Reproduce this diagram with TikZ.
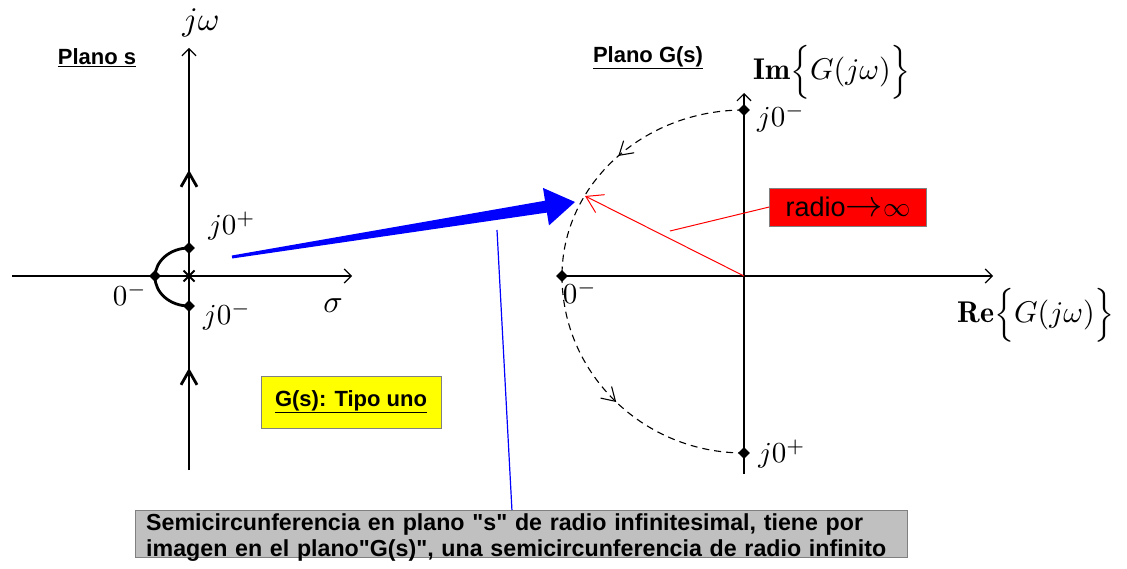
\documentclass[tikz,border=0pt]{standalone}
\usepackage{graphicx}
\usepackage{fontspec}
\setsansfont{Liberation Sans}
\newfontfamily\notefont{Liberation Sans}
\usetikzlibrary{positioning,calc,arrows.meta,shapes.geometric,shapes.misc,decorations.markings}
\definecolor{notegray}{RGB}{192,192,192}
\definecolor{tipoyellow}{RGB}{255,255,0}
\definecolor{framegray}{RGB}{128,128,128}
\newcommand{\bigmath}[2][2.9]{\scalebox{#1}{$#2$}}

\begin{document}
\begin{tikzpicture}[x=1pt,y=-1pt,
  axis/.style={line width=1.2pt,-{Straight Barb[length=7pt,width=14pt]}},
  contour/.style={line width=2.8pt},
  dot/.style={diamond,fill=black,inner sep=0pt,minimum size=12pt},
  lbl/.style={font=\fontsize{10}{12}\selectfont,inner sep=0pt},
  plano/.style={font=\sffamily\bfseries\fontsize{22}{24}\selectfont},
  gpath/.style={line width=1.1pt,dash pattern=on 7pt off 5pt,
    decoration={markings,mark=at position 0.5 with
      {\arrow{Straight Barb[length=13pt,width=16pt]}}},postaction={decorate}}]
  \useasboundingbox (0,0) rectangle (1127,569);

  % plano s
  \coordinate (so) at (189,276);
  \coordinate (sl) at (12,276);
  \coordinate (sr) at (352,276);
  \coordinate (sb) at (189,470);
  \coordinate (st) at (189,48);
  \draw[axis] (sl) -- (sr);
  \draw[axis] (sb) -- (st);
  \node[lbl] (jw) at (201,23) {\bigmath[3.3]{j\omega}};
  \node[lbl] (sig) at (333,306) {\bigmath[3.2]{\sigma}};
  \node[plano] (plas) at (97,58) {\underline{Plano s}};

  % contorno
  \node[dot] (jp) at (189,248) {};
  \node[dot] (zm) at (155,276) {};
  \node[dot] (jm) at (189,306) {};
  \node[draw,cross out,line width=2pt,minimum size=9pt,inner sep=0pt] (pole) at (so) {};
  \coordinate (lowend) at (189,442);
  \coordinate (lowarr) at (189,368);
  \coordinate (uparr) at (189,170);
  \coordinate (upend) at (189,105);
  \draw[contour,-{Straight Barb[length=14pt,width=16pt]}] (lowend) -- (lowarr);
  \draw[contour] (lowarr) -- (jm.center);
  \draw[contour,-{Straight Barb[length=14pt,width=16pt]}] (jp.center) -- (uparr);
  \draw[contour] (uparr) -- (upend);
  \draw[contour] (jp.center) arc[start angle=270,end angle=90,x radius=34,y radius=29];
  \node[lbl] (ljp) at (232,226) {\bigmath{j0^+}};
  \node[lbl] (lzm) at (130,294) {\bigmath{0^-}};
  \node[lbl] (ljm) at (227,316) {\bigmath{j0^-}};

  \node[draw=framegray,fill=tipoyellow,plano,minimum width=180pt,
        minimum height=52pt] (tipo) at (351,402) {\underline{G(s): Tipo uno}};

  % plano G(s)
  \coordinate (go) at (744,276);
  \coordinate (gr) at (993,276);
  \coordinate (gb) at (744,474);
  \coordinate (gt) at (744,93);
  \node[dot] (gjm) at (744,110) {};
  \node[dot] (gzm) at (562,276) {};
  \node[dot] (gjp) at (744,453) {};
  \draw[axis] (gzm.center) -- (gr);
  \draw[axis] (gb) -- (gt);
  \draw[gpath] (gjm.center) arc[start angle=270,end angle=180,x radius=182,y radius=166];
  \draw[gpath] (gzm.center) arc[start angle=180,end angle=90,x radius=182,y radius=177];
  \node[lbl] (gljm) at (781,118) {\bigmath{j0^-}};
  \node[lbl] (glzm) at (580,292) {\bigmath{0^-}};
  \node[lbl] (gljp) at (782,454) {\bigmath{j0^+}};
  \node[plano] (plag) at (648,58) {\underline{Plano G(s)}};
  \node[lbl] (imlab) at (832,72)
    {\bigmath[3.0]{\mathbf{Im}\Big\{G(j\omega)\Big\}}};
  \node[lbl] (relab) at (1036,315)
    {\bigmath[3.0]{\mathbf{Re}\Big\{G(j\omega)\Big\}}};

  % radio
  \coordinate (rtip) at (585,196);
  \draw[red,line width=1pt,-{Straight Barb[length=16pt,width=20pt]}] (go) -- (rtip);
  \node[fill=red,draw=framegray,inner sep=0pt,minimum width=157pt,minimum height=38pt,
        font=\sffamily\fontsize{27}{29}\selectfont] (radio) at (848,207)
    {radio\scalebox{1.5}{$\rightarrow$}\scalebox{1.1}{$\infty$}};
  \coordinate (rfoot) at (670,231);
  \draw[red,line width=1pt] (radio.west) -- (rfoot);

  % flecha azul
  \coordinate (bstart) at (232,257);
  \coordinate (btip) at (575,202);
  \coordinate (bbase) at ($(bstart)!318pt!(btip)$);
  \fill[blue] ($(bstart)!1.5pt!90:(btip)$) -- ($(bbase)!6pt!90:(btip)$)
    -- ($(bbase)!19pt!90:(btip)$) -- (btip) -- ($(bbase)!19pt!-90:(btip)$)
    -- ($(bbase)!6pt!-90:(btip)$) -- ($(bstart)!1.5pt!-90:(btip)$) -- cycle;

  % nota
  \node[draw=framegray,fill=notegray,anchor=north west,minimum width=772pt,
        text width=750pt,align=left,inner xsep=11pt,inner ysep=3pt,text depth=24pt,
        font=\notefont\bfseries\fontsize{23.2}{26}\selectfont] (note) at (135,510)
    {Semicircunferencia en plano "s" de radio infinitesimal, tiene por\\
     imagen en el plano"G(s)", una semicircunferencia de radio infinito};
  \coordinate (bfoot) at (497,230);
  \draw[blue,line width=1.2pt] (bfoot) -- ($(note.north west)!0.488!(note.north east)$);
\end{tikzpicture}
\end{document}
